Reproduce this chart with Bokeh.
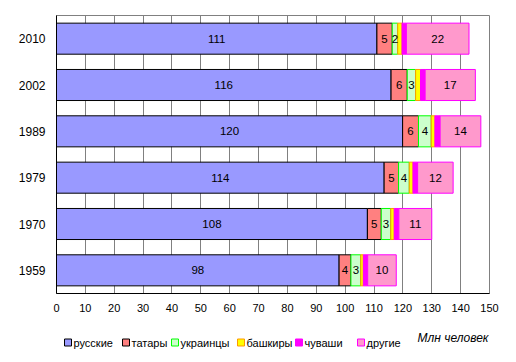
from bokeh.plotting import figure
from bokeh.models import ColumnDataSource, Range1d, FactorRange, Label, FixedTicker
from bokeh.layouts import column
from bokeh.embed import file_html
from bokeh.resources import INLINE
from bokeh.core.properties import value

years = ["1959", "1970", "1979", "1989", "2002", "2010"]
russians = [97.9, 107.7, 113.5, 119.9, 115.9, 111.0]
tatars = [4.1, 4.8, 5.0, 5.5, 5.6, 5.3]
ukrainians = [3.4, 3.3, 3.7, 4.4, 2.9, 1.9]
bashkirs = [0.9, 1.2, 1.3, 1.3, 1.7, 1.5]
chuvash = [1.5, 1.6, 1.6, 1.8, 1.6, 1.5]
others = [9.9, 11.4, 12.3, 14.1, 17.4, 21.7]

series_keys = ["russians", "tatars", "ukrainians", "bashkirs", "chuvash", "others"]
series_names = ["русские", "татары", "украинцы", "башкиры", "чуваши", "другие"]
fills = ["#9999FF", "#FF8080", "#CCFFCC", "#FFFF00", "#FF00FF", "#FF99CC"]
lines = ["#000000", "#000000", "#00FF00", "#FF9900", "#FF00FF", "#FF00FF"]
labelled = ["russians", "tatars", "ukrainians", "others"]
x_ticks = list(range(0, 151, 10))
unit_label = "Млн человек"

# legend layout (pixel positions of the swatches in the legend strip)
legend_swatch_left = [64, 122, 171, 237, 295, 357]

data = dict(year=years, russians=russians, tatars=tatars, ukrainians=ukrainians,
            bashkirs=bashkirs, chuvash=chuvash, others=others)
source = ColumnDataSource(data)

FONT = "Liberation Sans"
FL, FW, FR = 56, 433, 19   # frame left border, frame width, right border

p = figure(frame_width=FW, frame_height=278, y_range=FactorRange(*years), x_range=Range1d(0, 150),
           output_backend="svg", toolbar_location=None,
           min_border_left=FL, min_border_right=FR, min_border_top=15, min_border_bottom=33)

renderers = p.hbar_stack(series_keys, y="year", height=0.67, source=source,
                         fill_color=fills, line_color=lines, line_width=1)

# value labels
cum = [0.0] * len(years)
for key, vals in zip(series_keys, [russians, tatars, ukrainians, bashkirs, chuvash, others]):
    mids = [c + v / 2 for c, v in zip(cum, vals)]
    cum = [c + v for c, v in zip(cum, vals)]
    if key in labelled:
        ls = ColumnDataSource(dict(x=mids, y=years, t=[str(int(round(v))) for v in vals]))
        p.text(x="x", y="y", text="t", source=ls, text_align="center", text_baseline="middle",
               text_font=value(FONT), text_font_size="11.5px", text_color="#000000")

p.xaxis.ticker = FixedTicker(ticks=x_ticks)
p.xgrid.ticker = FixedTicker(ticks=x_ticks)
p.xgrid.grid_line_color = "#808080"
p.ygrid.grid_line_color = None
p.outline_line_color = "#808080"
p.outline_line_width = 1

for ax in (p.xaxis[0], p.yaxis[0]):
    ax.axis_line_color = "#000000"
    ax.major_tick_line_color = None
    ax.minor_tick_line_color = None
    ax.major_tick_out = 0
    ax.major_tick_in = 0
    ax.major_label_text_font = FONT
    ax.major_label_text_color = "#000000"
p.xaxis.major_label_text_font_size = "11px"
p.xaxis.major_label_standoff = 10
p.yaxis.major_label_text_font_size = "12px"
p.yaxis.major_label_standoff = 11

# legend strip below the chart (coordinates in page pixels, frame aligned with the chart's)
LH = 28
q = figure(frame_width=FW, frame_height=LH, x_range=Range1d(FL, FL + FW), y_range=Range1d(0, LH),
           output_backend="svg", toolbar_location=None, x_axis_type=None, y_axis_type=None,
           min_border_left=FL, min_border_right=FR, min_border_top=0, min_border_bottom=0)
q.xgrid.grid_line_color = None
q.ygrid.grid_line_color = None
q.outline_line_color = None

ly = 12
q.rect(x=[s + 3.5 for s in legend_swatch_left], y=[ly] * 6, width=7, height=7,
       fill_color=fills, line_color=lines, line_width=1)
q.text(x=[s + 9 for s in legend_swatch_left], y=[ly] * 6, text=series_names,
       text_align="left", text_baseline="middle", text_font=value(FONT),
       text_font_size="11px", text_color="#000000")
q.add_layout(Label(x=488, y=17, text=unit_label, text_align="right", text_baseline="middle",
                   text_font=FONT, text_font_size="12px", text_font_style="italic",
                   text_color="#000000"))

layout = column(p, q, spacing=0)
open("out.html", "w").write(file_html(layout, INLINE))
